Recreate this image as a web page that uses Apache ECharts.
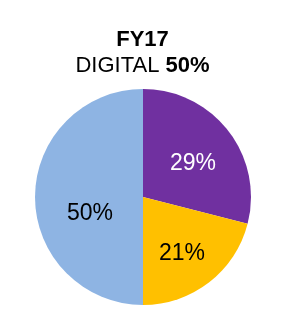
<!DOCTYPE html>
<html><head><meta charset="utf-8">
<script src="https://cdn.jsdelivr.net/npm/echarts@6/dist/echarts.min.js"></script>
<style>html,body{margin:0;padding:0;background:#fff}#c{width:285px;height:323px}</style>
</head><body><div id="c"></div>
<script>
const categories = ['Segment A', 'Segment B', 'Digital'];
const values = [29, 21, 50];
const colors = ['#7030A0', '#FFC000', '#8EB4E3'];
const labelColors = ['#ffffff', '#000000', '#000000'];
const labelOffsets = [[5, 2], [4, 12], [4, 17]];

const chart = echarts.init(document.getElementById('c'), null, {renderer: 'canvas'});
chart.setOption({
  animation: false,
  title: {
    text: '{b|FY17}\n{n|DIGITAL }{b|50%}',
    left: 'center',
    top: 22,
    textStyle: {
      fontWeight: 'normal',
      rich: {
        b: {fontFamily: 'Liberation Sans', fontSize: 22, fontWeight: 'bold', color: '#000', lineHeight: 26},
        n: {fontFamily: 'Liberation Sans', fontSize: 22, fontWeight: 'normal', color: '#000', lineHeight: 26}
      }
    }
  },
  series: [{
    type: 'pie',
    center: [143, 197],
    radius: 108,
    startAngle: 90,
    clockwise: true,
    avoidLabelOverlap: false,
    itemStyle: {borderWidth: 0},
    label: {show: true, position: 'inside', formatter: '{c}%', fontFamily: 'Liberation Sans', fontSize: 23},
    labelLine: {show: false},
    data: categories.map((n, i) => ({
      name: n, value: values[i],
      itemStyle: {color: colors[i]},
      label: {color: labelColors[i], offset: labelOffsets[i]}
    }))
  }]
});
</script></body></html>
